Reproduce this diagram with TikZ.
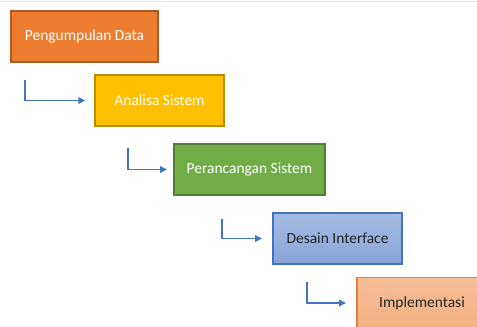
\documentclass[tikz,border=0pt]{standalone}
\usepackage{fontspec}
\setmainfont{Carlito}
\usetikzlibrary{arrows.meta}
\definecolor{c1}{HTML}{ED7D31}\definecolor{b1}{HTML}{AE5A21}
\definecolor{c2}{HTML}{FFC000}\definecolor{b2}{HTML}{BC8C00}
\definecolor{c3}{HTML}{70AD47}\definecolor{b3}{HTML}{507E32}
\definecolor{c4}{HTML}{8FAADC}\definecolor{b4}{HTML}{4472C4}
\definecolor{c5}{HTML}{F4B183}\definecolor{b5}{HTML}{ED7D31}
\definecolor{ar}{HTML}{4472C4}
\begin{document}
\begin{tikzpicture}[x=0.75pt,y=-0.75pt,
  stepbox/.style={draw, line width=0.8pt, minimum height=51*0.75pt, inner sep=0pt, font=\fontsize{11.6}{13}\selectfont},
  flow/.style={draw=ar, line width=0.8pt, -{Triangle[length=5pt,width=5pt]}}]
\useasboundingbox (0,0) rectangle (477,327);
\draw[gray!20, line width=0.8pt] (0,1.5) -- (477,1.5);
\node[stepbox, fill=c1, draw=b1, text=white, minimum width=147*0.75pt] (s1) at (84.5,36.5) {Pengumpulan Data};
\node[stepbox, fill=c2, draw=b2, text=white, minimum width=129*0.75pt] (s2) at (159.5,100.5) {Analisa Sistem};
\node[stepbox, fill=c3, draw=b3, text=white, minimum width=151*0.75pt] (s3) at (249.5,169.5) {Perancangan Sistem};
\node[stepbox, top color=c4!80!white, bottom color=c4!90!b4, draw=b4, text=black!85, minimum width=129*0.75pt] (s4) at (337.5,238.5) {Desain Interface};
\node[stepbox, top color=c5!85!white, bottom color=c5, draw=b5, text=black!85, minimum width=130*0.75pt] (s5) at (422,303) {Implementasi};
\coordinate (a1) at (25,80);
\coordinate (a2) at (128,148);
\coordinate (a3) at (222,219);
\coordinate (a4) at (307,282);
\draw[flow] (a1) |- ([xshift=-7pt]s2.west);
\draw[flow] (a2) |- ([xshift=-5pt]s3.west);
\draw[flow] (a3) |- ([xshift=-8pt]s4.west);
\draw[flow] (a4) |- ([xshift=-8pt]s5.west);
\end{tikzpicture}
\end{document}
